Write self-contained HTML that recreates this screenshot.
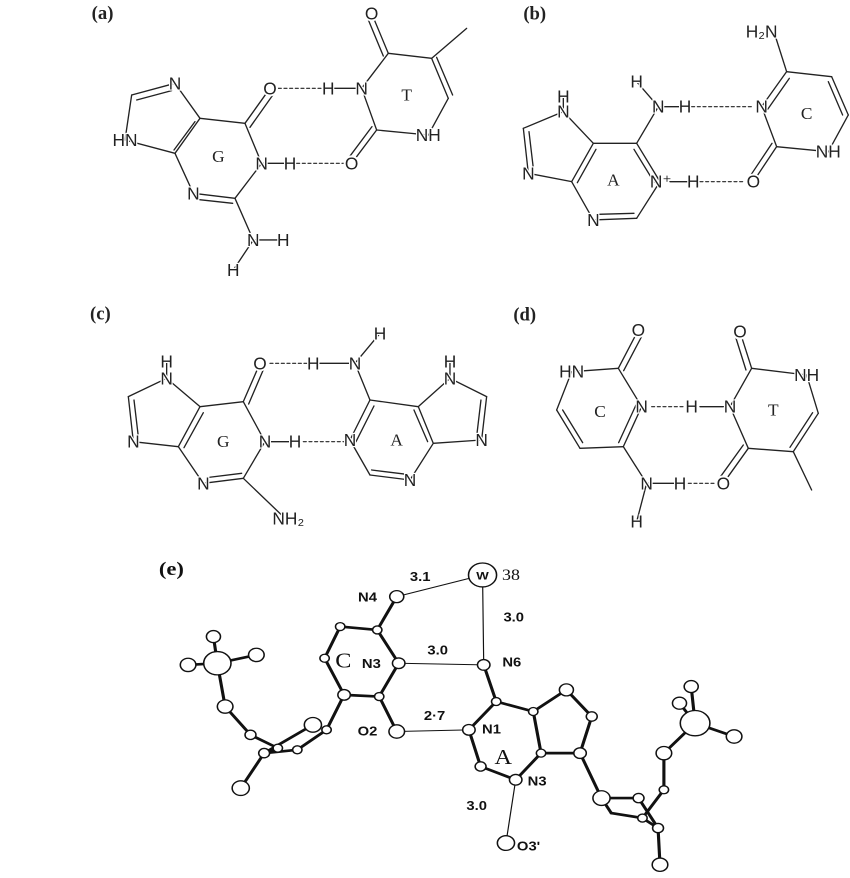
<!DOCTYPE html>
<html><head><meta charset="utf-8"><style>
html,body{margin:0;padding:0;background:#fff;}
svg{display:block}
.s line,.s polyline{stroke:#222;stroke-width:4;fill:none;stroke-linecap:round}
.s .d{stroke-dasharray:9 8;stroke-width:3.5}
.s circle.bg{fill:#fff;stroke:none}
.s text{font-family:"Liberation Sans",sans-serif;font-size:52px;fill:#222;text-anchor:middle;dominant-baseline:central;stroke:#fff;stroke-width:7px;paint-order:stroke}
.s text.l{font-family:"Liberation Serif",serif;stroke:none}
.s text.h{font-family:"Liberation Serif",serif;font-weight:bold;font-size:56px;text-anchor:start;stroke:none}
.e line{stroke:#111;stroke-linecap:round}
.e .k{stroke-width:8}
.e .t{stroke-width:3}
.e circle{fill:#fff;stroke:#111;stroke-width:4}
.e text{font-family:"Liberation Sans",sans-serif;font-weight:bold;font-size:38px;fill:#111;text-anchor:middle;dominant-baseline:central}
.e text.l{font-family:"Liberation Serif",serif;font-weight:normal;font-size:62px}
.e text.h{font-family:"Liberation Serif",serif;font-size:58px;text-anchor:start}
</style></head><body>
<svg width="850" height="878" viewBox="0 0 850 878" xmlns="http://www.w3.org/2000/svg">
<!-- (a) -->
<g class="s" transform="translate(90,0) scale(0.3333)">
<text class="h" x="5" y="40">(a)</text>
<line x1="125" y1="285" x2="255" y2="250"/><line x1="140" y1="300" x2="245" y2="272"/>
<line x1="255" y1="250" x2="330" y2="355"/>
<line x1="330" y1="355" x2="255" y2="460"/><line x1="315" y1="365" x2="252" y2="450"/>
<line x1="255" y1="460" x2="105" y2="420"/><line x1="105" y1="420" x2="125" y2="285"/>
<line x1="330" y1="355" x2="465" y2="370"/>
<line x1="465" y1="370" x2="540" y2="265"/><line x1="480" y1="382" x2="552" y2="280"/>
<line x1="465" y1="370" x2="515" y2="490"/><line x1="515" y1="490" x2="600" y2="490"/>
<line x1="515" y1="490" x2="435" y2="595"/>
<line x1="435" y1="595" x2="310" y2="580"/><line x1="428" y1="610" x2="318" y2="598"/>
<line x1="310" y1="580" x2="255" y2="460"/>
<line x1="435" y1="595" x2="490" y2="720"/><line x1="490" y1="720" x2="580" y2="720"/><line x1="490" y1="720" x2="430" y2="810"/>
<line class="d" x1="565" y1="265" x2="695" y2="265"/><line x1="715" y1="265" x2="815" y2="265"/>
<line class="d" x1="620" y1="490" x2="770" y2="490"/>
<line x1="815" y1="265" x2="895" y2="160"/>
<line x1="895" y1="160" x2="845" y2="40"/><line x1="880" y1="168" x2="832" y2="52"/>
<line x1="895" y1="160" x2="1025" y2="175"/><line x1="1025" y1="175" x2="1130" y2="85"/>
<line x1="1025" y1="175" x2="1075" y2="295"/><line x1="1040" y1="172" x2="1088" y2="285"/>
<line x1="1075" y1="295" x2="1015" y2="405"/><line x1="1015" y1="405" x2="860" y2="390"/>
<line x1="860" y1="390" x2="815" y2="265"/>
<line x1="860" y1="390" x2="785" y2="490"/><line x1="846" y1="380" x2="775" y2="475"/>
<circle class="bg" cx="540" cy="265" r="24"/><circle class="bg" cx="845" cy="40" r="24"/><circle class="bg" cx="785" cy="490" r="24"/>
<text x="255" y="250">N</text><text x="105" y="420">HN</text><text x="540" y="265">O</text>
<text x="515" y="490">N</text><text x="600" y="490">H</text><text x="310" y="580">N</text>
<text x="490" y="720">N</text><text x="580" y="720">H</text><text x="430" y="810">H</text>
<text x="715" y="265">H</text><text x="815" y="265">N</text><text x="845" y="40">O</text>
<text x="1015" y="405">NH</text><text x="785" y="490">O</text>
<text class="l" x="385" y="470">G</text><text class="l" x="950" y="285">T</text>
</g>
<!-- (b) -->
<g class="s" transform="translate(490,0) scale(0.3333)">
<text class="h" x="100" y="42">(b)</text>
<line x1="220" y1="335" x2="100" y2="385"/>
<line x1="100" y1="385" x2="115" y2="520"/><line x1="117" y1="395" x2="130" y2="505"/>
<line x1="115" y1="520" x2="245" y2="545"/>
<line x1="245" y1="545" x2="310" y2="430"/><line x1="262" y1="548" x2="318" y2="448"/>
<line x1="310" y1="430" x2="220" y2="335"/><line x1="220" y1="290" x2="220" y2="335"/>
<line x1="310" y1="430" x2="440" y2="430"/>
<line x1="440" y1="430" x2="510" y2="545"/><line x1="432" y1="448" x2="492" y2="546"/>
<line x1="510" y1="545" x2="440" y2="655"/>
<line x1="440" y1="655" x2="310" y2="660"/><line x1="432" y1="640" x2="325" y2="643"/>
<line x1="310" y1="660" x2="245" y2="545"/>
<line x1="440" y1="430" x2="505" y2="320"/><line x1="505" y1="320" x2="440" y2="245"/><line x1="505" y1="320" x2="585" y2="320"/>
<line class="d" x1="605" y1="320" x2="790" y2="320"/>
<line x1="540" y1="545" x2="610" y2="545"/><line class="d" x1="630" y1="545" x2="765" y2="545"/>
<line x1="815" y1="320" x2="890" y2="215"/><line x1="833" y1="328" x2="898" y2="235"/>
<line x1="890" y1="215" x2="855" y2="105"/>
<line x1="890" y1="215" x2="1025" y2="230"/>
<line x1="1025" y1="230" x2="1075" y2="345"/><line x1="1015" y1="245" x2="1058" y2="345"/>
<line x1="1075" y1="345" x2="1015" y2="455"/><line x1="1015" y1="455" x2="860" y2="440"/>
<line x1="860" y1="440" x2="815" y2="320"/>
<line x1="860" y1="440" x2="790" y2="545"/><line x1="846" y1="430" x2="778" y2="532"/>
<circle class="bg" cx="790" cy="545" r="24"/>
<text x="220" y="290">H</text><text x="220" y="335">N</text><text x="115" y="520">N</text>
<text x="310" y="660">N</text><text x="440" y="245">H</text><text x="505" y="320">N</text><text x="585" y="320">H</text>
<text x="512" y="545">N⁺</text><text x="610" y="545">H</text><text x="815" y="320">N</text>
<text x="815" y="95">H₂N</text><text x="1015" y="455">NH</text><text x="790" y="545">O</text>
<text class="l" x="370" y="540">A</text><text class="l" x="950" y="340">C</text>
</g>
<!-- (c) -->
<g class="s" transform="translate(90,300) scale(0.3333)">
<text class="h" x="0" y="42">(c)</text>
<line x1="230" y1="185" x2="230" y2="235"/>
<line x1="230" y1="235" x2="115" y2="290"/>
<line x1="115" y1="290" x2="130" y2="425"/><line x1="132" y1="300" x2="145" y2="410"/>
<line x1="130" y1="425" x2="265" y2="440"/>
<line x1="265" y1="440" x2="330" y2="320"/><line x1="282" y1="443" x2="340" y2="338"/>
<line x1="330" y1="320" x2="230" y2="235"/>
<line x1="330" y1="320" x2="460" y2="305"/>
<line x1="460" y1="305" x2="510" y2="190"/><line x1="476" y1="312" x2="524" y2="200"/>
<line x1="460" y1="305" x2="525" y2="425"/><line x1="525" y1="425" x2="615" y2="425"/>
<line x1="525" y1="425" x2="460" y2="535"/>
<line x1="460" y1="535" x2="340" y2="550"/><line x1="455" y1="520" x2="350" y2="533"/>
<line x1="340" y1="550" x2="265" y2="440"/>
<line x1="460" y1="535" x2="580" y2="650"/>
<line class="d" x1="540" y1="190" x2="650" y2="190"/><line x1="690" y1="190" x2="780" y2="190"/>
<line x1="795" y1="190" x2="870" y2="100"/>
<line class="d" x1="640" y1="425" x2="765" y2="425"/>
<line x1="795" y1="190" x2="840" y2="300"/>
<line x1="840" y1="300" x2="780" y2="420"/><line x1="852" y1="318" x2="798" y2="425"/>
<line x1="780" y1="420" x2="840" y2="525"/>
<line x1="840" y1="525" x2="960" y2="540"/><line x1="845" y1="510" x2="950" y2="523"/>
<line x1="960" y1="540" x2="1030" y2="430"/>
<line x1="1030" y1="430" x2="985" y2="320"/><line x1="1013" y1="425" x2="972" y2="330"/>
<line x1="985" y1="320" x2="840" y2="300"/>
<line x1="985" y1="320" x2="1080" y2="235"/><line x1="1080" y1="185" x2="1080" y2="235"/>
<line x1="1080" y1="235" x2="1190" y2="290"/>
<line x1="1190" y1="290" x2="1175" y2="420"/><line x1="1173" y1="300" x2="1160" y2="410"/>
<line x1="1175" y1="420" x2="1030" y2="430"/>
<circle class="bg" cx="510" cy="190" r="24"/>
<text x="230" y="185">H</text><text x="230" y="235">N</text><text x="130" y="425">N</text>
<text x="510" y="190">O</text><text x="525" y="425">N</text><text x="615" y="425">H</text>
<text x="340" y="550">N</text><text x="595" y="655">NH₂</text>
<text x="670" y="190">H</text><text x="795" y="190">N</text><text x="870" y="100">H</text>
<text x="780" y="420">N</text><text x="960" y="540">N</text><text x="1080" y="185">H</text><text x="1080" y="235">N</text>
<text x="1175" y="420">N</text>
<text class="l" x="400" y="425">G</text><text class="l" x="920" y="420">A</text>
</g>
<!-- (d) -->
<g class="s" transform="translate(510,300) scale(0.3333)">
<text class="h" x="10" y="45">(d)</text>
<line x1="185" y1="215" x2="325" y2="205"/>
<line x1="325" y1="205" x2="385" y2="90"/><line x1="341" y1="212" x2="400" y2="100"/>
<line x1="325" y1="205" x2="395" y2="320"/>
<line x1="395" y1="320" x2="340" y2="440"/><line x1="378" y1="315" x2="326" y2="428"/>
<line x1="340" y1="440" x2="210" y2="445"/>
<line x1="210" y1="445" x2="140" y2="330"/><line x1="218" y1="428" x2="158" y2="330"/>
<line x1="140" y1="330" x2="185" y2="215"/>
<line x1="340" y1="440" x2="410" y2="550"/><line x1="410" y1="550" x2="510" y2="550"/><line x1="410" y1="550" x2="380" y2="665"/>
<line class="d" x1="535" y1="550" x2="620" y2="550"/>
<line class="d" x1="425" y1="320" x2="525" y2="320"/><line x1="570" y1="320" x2="640" y2="320"/>
<line x1="660" y1="320" x2="725" y2="205"/>
<line x1="725" y1="205" x2="690" y2="95"/><line x1="708" y1="210" x2="675" y2="105"/>
<line x1="725" y1="205" x2="890" y2="225"/>
<line x1="890" y1="225" x2="925" y2="340"/>
<line x1="925" y1="340" x2="850" y2="455"/><line x1="908" y1="338" x2="840" y2="442"/>
<line x1="850" y1="455" x2="905" y2="570"/>
<line x1="850" y1="455" x2="715" y2="445"/>
<line x1="715" y1="445" x2="640" y2="550"/><line x1="700" y1="435" x2="628" y2="535"/>
<line x1="715" y1="445" x2="660" y2="320"/>
<circle class="bg" cx="385" cy="90" r="24"/><circle class="bg" cx="690" cy="95" r="24"/><circle class="bg" cx="640" cy="550" r="24"/>
<text x="185" y="215">HN</text><text x="385" y="90">O</text><text x="395" y="320">N</text>
<text x="410" y="550">N</text><text x="510" y="550">H</text><text x="380" y="665">H</text>
<text x="545" y="320">H</text><text x="660" y="320">N</text><text x="690" y="95">O</text>
<text x="890" y="225">NH</text><text x="640" y="550">O</text>
<text class="l" x="270" y="335">C</text><text class="l" x="790" y="330">T</text>
</g>
<!-- (e) -->
<g class="e" transform="translate(153,560) scale(0.39,0.333)">
<text class="h" x="15" y="25">(e)</text>
<line class="t" x1="625" y1="110" x2="845" y2="45"/>
<line class="t" x1="845" y1="45" x2="848" y2="315"/>
<line class="t" x1="630" y1="310" x2="848" y2="315"/>
<line class="t" x1="625" y1="515" x2="810" y2="510"/>
<line class="t" x1="930" y1="660" x2="905" y2="850"/>
<line class="k" x1="575" y1="210" x2="480" y2="200"/><line class="k" x1="480" y1="200" x2="440" y2="295"/>
<line class="k" x1="440" y1="295" x2="490" y2="405"/><line class="k" x1="490" y1="405" x2="580" y2="410"/>
<line class="k" x1="580" y1="410" x2="630" y2="310"/><line class="k" x1="630" y1="310" x2="575" y2="210"/>
<line class="k" x1="575" y1="210" x2="625" y2="110"/><line class="k" x1="580" y1="410" x2="625" y2="515"/>
<line class="k" x1="848" y1="315" x2="880" y2="425"/>
<line class="k" x1="810" y1="510" x2="880" y2="425"/><line class="k" x1="880" y1="425" x2="975" y2="455"/>
<line class="k" x1="975" y1="455" x2="995" y2="580"/><line class="k" x1="995" y1="580" x2="930" y2="660"/>
<line class="k" x1="930" y1="660" x2="840" y2="620"/><line class="k" x1="840" y1="620" x2="810" y2="510"/>
<line class="k" x1="975" y1="455" x2="1060" y2="390"/><line class="k" x1="1060" y1="390" x2="1125" y2="470"/>
<line class="k" x1="1125" y1="470" x2="1095" y2="580"/><line class="k" x1="1095" y1="580" x2="995" y2="580"/>
<line class="k" x1="1095" y1="580" x2="1150" y2="715"/><line class="k" x1="1150" y1="715" x2="1245" y2="715"/>
<line class="k" x1="1245" y1="715" x2="1295" y2="805"/><line class="k" x1="1150" y1="715" x2="1175" y2="760"/>
<line class="k" x1="1175" y1="760" x2="1255" y2="775"/><line class="k" x1="1255" y1="775" x2="1295" y2="805"/>
<line class="k" x1="1295" y1="805" x2="1300" y2="915"/><line class="k" x1="1255" y1="775" x2="1310" y2="690"/>
<line class="k" x1="1310" y1="690" x2="1310" y2="580"/><line class="k" x1="1310" y1="580" x2="1390" y2="490"/>
<line class="k" x1="1390" y1="490" x2="1380" y2="380"/><line class="k" x1="1390" y1="490" x2="1350" y2="430"/>
<line class="k" x1="1390" y1="490" x2="1490" y2="530"/>
<line class="k" x1="490" y1="405" x2="445" y2="510"/><line class="k" x1="445" y1="510" x2="370" y2="570"/>
<line class="k" x1="410" y1="495" x2="285" y2="580"/><line class="k" x1="370" y1="570" x2="285" y2="580"/>
<line class="k" x1="285" y1="580" x2="225" y2="685"/><line class="k" x1="285" y1="580" x2="320" y2="565"/>
<line class="k" x1="320" y1="565" x2="250" y2="525"/><line class="k" x1="250" y1="525" x2="185" y2="440"/>
<line class="k" x1="185" y1="440" x2="165" y2="310"/><line class="k" x1="165" y1="310" x2="155" y2="230"/>
<line class="k" x1="165" y1="310" x2="265" y2="285"/><line class="k" x1="165" y1="310" x2="90" y2="315"/>
<circle cx="845" cy="45" r="36"/>
<circle cx="625" cy="110" r="18"/>
<circle cx="575" cy="210" r="12"/><circle cx="480" cy="200" r="12"/><circle cx="440" cy="295" r="12"/>
<circle cx="490" cy="405" r="16"/><circle cx="580" cy="410" r="12"/><circle cx="630" cy="310" r="16"/>
<circle cx="848" cy="315" r="16"/><circle cx="625" cy="515" r="20"/><circle cx="810" cy="510" r="16"/>
<circle cx="880" cy="425" r="12"/><circle cx="975" cy="455" r="12"/><circle cx="995" cy="580" r="12"/>
<circle cx="930" cy="660" r="16"/><circle cx="840" cy="620" r="14"/><circle cx="905" cy="850" r="22"/>
<circle cx="1060" cy="390" r="18"/><circle cx="1125" cy="470" r="14"/><circle cx="1095" cy="580" r="16"/>
<circle cx="1150" cy="715" r="22"/><circle cx="1245" cy="715" r="14"/><circle cx="1255" cy="775" r="12"/>
<circle cx="1295" cy="805" r="14"/><circle cx="1300" cy="915" r="20"/><circle cx="1310" cy="690" r="12"/>
<circle cx="1310" cy="580" r="20"/><circle cx="1390" cy="490" r="38"/><circle cx="1380" cy="380" r="18"/>
<circle cx="1350" cy="430" r="18"/><circle cx="1490" cy="530" r="20"/>
<circle cx="445" cy="510" r="12"/><circle cx="410" cy="495" r="22"/><circle cx="370" cy="570" r="12"/>
<circle cx="285" cy="580" r="14"/><circle cx="250" cy="525" r="14"/><circle cx="185" cy="440" r="20"/>
<circle cx="165" cy="310" r="35"/><circle cx="155" cy="230" r="18"/><circle cx="265" cy="285" r="20"/>
<circle cx="90" cy="315" r="20"/><circle cx="225" cy="685" r="22"/><circle cx="320" cy="565" r="12"/>
<text x="845" y="47" style="font-size:34px">W</text>
<text class="l" x="895" y="45" style="font-size:46px;text-anchor:start">38</text>
<text x="685" y="50">3.1</text><text x="550" y="112">N4</text><text x="925" y="172">3.0</text>
<text class="l" x="488" y="302">C</text><text x="560" y="312">N3</text><text x="730" y="272">3.0</text>
<text x="920" y="308">N6</text><text x="722" y="468">2·7</text><text x="550" y="515">O2</text>
<text x="868" y="508">N1</text><text class="l" x="898" y="592">A</text><text x="985" y="665">N3</text>
<text x="830" y="738">3.0</text><text x="963" y="860">O3ʹ</text>
</g>
</svg>
</body></html>
